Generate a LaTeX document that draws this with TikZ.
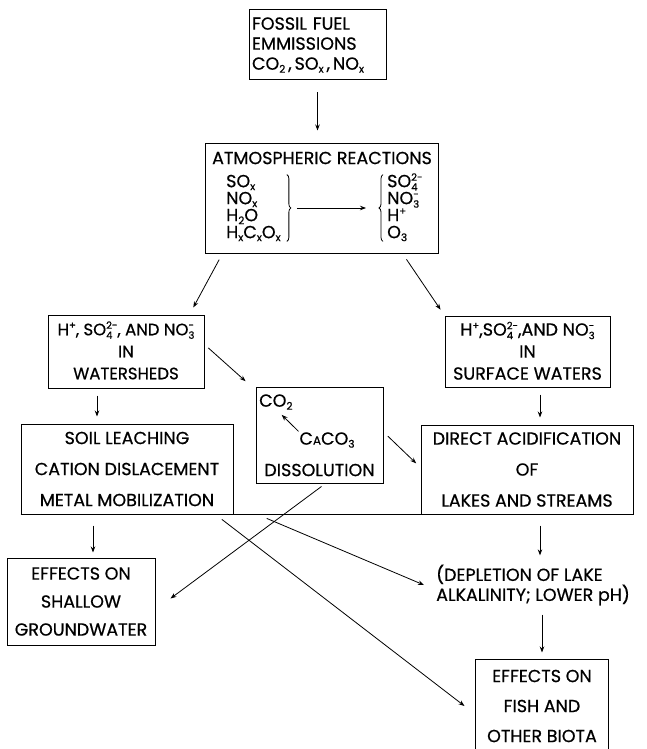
\documentclass[tikz,border=0pt]{standalone}
\usepackage{fontspec}
\setmainfont{Poppins}[FakeBold=0.6]
\usetikzlibrary{arrows.meta,positioning,decorations.pathreplacing,calc}
\newcommand{\chsub}[1]{\raisebox{-3pt}{\fontsize{10.5}{10.5}\selectfont #1}}
\newcommand{\chion}[2]{\smash{\begingroup\fontsize{10}{10}\selectfont
  \setbox0\hbox{\raisebox{6.5pt}{#2}}\setbox2\hbox{\raisebox{-3.5pt}{#1}}%
  \ifdim\wd0>\wd2 \rlap{\box2}\box0\else\rlap{\box0}\box2\fi\endgroup}}

\begin{document}
\begin{tikzpicture}[x=1pt,y=-1pt,
    box/.style={draw,line width=1pt,inner sep=1pt,align=center,font=\fontsize{17.5}{#1}\selectfont},
    box/.default=20,
    txt/.style={inner sep=0pt,align=left,font=\fontsize{17.5}{#1}\selectfont},
    txt/.default=17,
    arr/.style={-{Stealth[length=6pt,width=4.5pt]},line width=0.8pt}]
  \useasboundingbox (0,0) rectangle (647,749);

  % sources and atmosphere
  \node[box,minimum width=137pt,minimum height=70pt,text width=131pt,align=left] (fossil) at (317.5,45)
    {FOSSIL FUEL\\EMMISSIONS\\CO\chsub{2}\,,\,SO\chsub{x}\,,\,NO\chsub{x}};
  \node[box,minimum width=233pt,minimum height=110pt] (atmos) at (321.5,198) {};
  \node[txt] (atmostitle) at (322,158) {ATMOSPHERIC REACTIONS};
  \node[txt=17,anchor=west] (reactants) at (226,208)
    {SO\chsub{x}\\NO\chsub{x}\\H\chsub{2}O\\H\chsub{x}C\chsub{x}O\chsub{x}};
  \node[txt=17,anchor=west] (products) at (387,208)
    {SO\chion{4}{2-}\\NO\chion{3}{-}\\H\chion{}{+}\\O\chsub{3}};
  \draw[decorate,decoration={brace,amplitude=4pt},line width=0.8pt]
    ([xshift=6pt]reactants.north east) -- ([xshift=6pt]reactants.south east);
  \draw[decorate,decoration={brace,amplitude=4pt},line width=0.8pt]
    ([xshift=-4pt]products.south west) -- ([xshift=-4pt]products.north west);
  \draw[arr] ([xshift=16pt]reactants.east) -- ([xshift=-21pt]products.west);

  % deposition
  \node[box=22,minimum width=156pt,minimum height=73pt,font=\fontsize{16.5}{22}\selectfont] (wshed) at (126,351.5)
    {H\chion{}{+}, SO\chion{4}{2-}, AND NO\chion{3}{-}\\IN\\WATERSHEDS};
  \node[box=22,minimum width=165pt,minimum height=71pt] (surf) at (527.5,351.5)
    {H\chion{}{+},SO\chion{4}{2-},AND NO\chion{3}{-}\\IN\\SURFACE WATERS};

  % processes
  \node[box=31,minimum width=212pt,minimum height=90pt] (soil) at (127,469)
    {SOIL LEACHING\\CATION DISLACEMENT\\METAL MOBILIZATION};
  \node[box,minimum width=127pt,minimum height=96pt] (diss) at (319.5,435) {};
  \node[txt,anchor=west] (co2) at (259,402) {CO\chsub{2}};
  \node[txt] (caco3) at (327,440) {C{\fontsize{12}{12}\selectfont A}CO\chsub{3}};
  \node[txt] (disstxt) at (319.5,470) {DISSOLUTION};
  \draw[arr,shorten <=1pt] (caco3.north west) -- ([xshift=-11pt,yshift=-5pt]co2.south east);
  \node[box=31,minimum width=212pt,minimum height=89pt] (direct) at (527,469.5)
    {DIRECT ACIDIFICATION\\OF\\LAKES AND STREAMS};
  \draw[line width=1.3pt] (soil.south west) -- (direct.south east);

  % effects
  \node[box=28,minimum width=148pt,minimum height=87pt] (gwater) at (81,601.5)
    {EFFECTS ON\\SHALLOW\\GROUNDWATER};
  \node[txt=20,anchor=west] (deplete) at (436,585) {(DEPLETION OF LAKE\\ALKALINITY; LOWER pH)};
  \node[box=30,draw=none,minimum width=132pt,minimum height=92pt] (fish) at (542,706)
    {EFFECTS ON\\FISH AND\\OTHER BIOTA};
  \draw[line width=1pt] (fish.south west) -- (fish.north west) -- (fish.north east) -- (fish.south east);

  % connectors
  \draw[arr,shorten <=12pt,shorten >=12pt] (fossil.south) -- (fossil.south |- atmos.north);
  \draw[arr,shorten <=7pt,shorten >=8pt] ([xshift=18pt]atmos.south west) -- ([xshift=142pt]wshed.north west);
  \draw[arr,shorten <=7pt,shorten >=7pt] ([xshift=-36pt]atmos.south east) -- (surf.north west);
  \draw[arr,shorten <=7pt,shorten >=7pt] ([xshift=-29pt]wshed.south) -- ([xshift=-29pt]wshed.south |- soil.north);
  \draw[arr,shorten <=5pt,shorten >=8pt] ([yshift=7pt]wshed.east) -- ([xshift=-4pt]diss.north west);
  \draw[arr,shorten <=7pt,shorten >=7pt] ([xshift=12.5pt]surf.south) -- ([xshift=12.5pt]surf.south |- direct.north);
  \draw[arr,shorten <=6pt,shorten >=6pt] ([yshift=3pt]diss.east) -- ([yshift=2pt]direct.west);
  \draw[arr,shorten <=11pt,shorten >=5pt] ([xshift=12pt]gwater.north |- soil.south) -- ([xshift=12pt]gwater.north);
  \draw[arr,shorten <=11pt,shorten >=9pt] ([xshift=13pt]direct.south) -- ([xshift=13pt]direct.south |- deplete.north);
  \draw[arr,shorten <=9pt,shorten >=7pt] (fish.north |- deplete.south) -- (fish.north);
  \draw[arr,shorten <=5pt] ([xshift=6pt]diss.south) -- ([xshift=15pt,yshift=3pt]gwater.east);
  \draw[arr,shorten <=8pt] ([xshift=-18pt]soil.south east) -- ([xshift=-11pt]fish.west);
  \draw[arr,shorten <=10pt] ([xshift=24pt]soil.south east) -- ([xshift=-12pt]deplete.west);
\end{tikzpicture}
\end{document}
